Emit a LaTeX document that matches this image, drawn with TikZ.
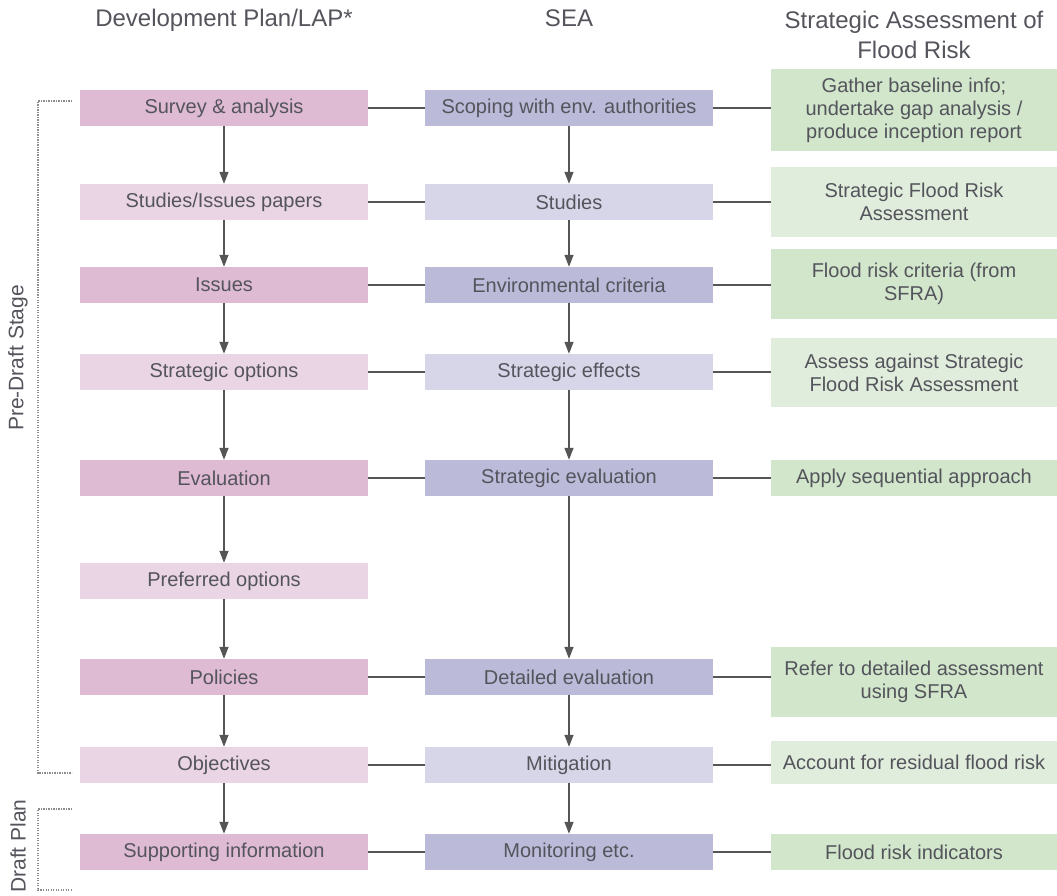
\documentclass[tikz,border=0pt]{standalone}
\usepackage{fontspec}
\setmainfont{Liberation Sans}
\usetikzlibrary{arrows.meta, positioning, calc}

\definecolor{txtgray}{RGB}{84,84,92}
\definecolor{linegray}{RGB}{85,85,85}
\definecolor{plandark}{RGB}{222,186,211}
\definecolor{planlight}{RGB}{234,213,229}
\definecolor{seadark}{RGB}{187,186,217}
\definecolor{sealight}{RGB}{215,214,233}
\definecolor{flooddark}{RGB}{209,230,203}
\definecolor{floodlight}{RGB}{225,237,220}

\begin{document}
\begin{tikzpicture}[
    x=1pt, y=-1pt,
    every node/.style={font=\fontsize{20}{23}\selectfont, text=txtgray},
    heading/.style={
        font=\fontsize{24}{30}\selectfont,
        align=center
    },
    stagelabel/.style={
        font=\fontsize{21}{25}\selectfont,
        rotate=90
    },
    planbox/.style={
        rectangle,
        fill=plandark,
        minimum width=288pt,
        minimum height=36pt,
        inner sep=0pt,
        align=center
    },
    seabox/.style={
        rectangle,
        fill=seadark,
        minimum width=288pt,
        minimum height=36pt,
        inner sep=0pt,
        align=center
    },
    floodbox/.style={
        rectangle,
        fill=flooddark,
        minimum width=286pt,
        minimum height=36pt,
        inner sep=0pt,
        align=center
    },
    light/.style={fill=#1},
    arrow/.style={
        -{Triangle[length=12pt, width=9pt]},
        line width=1.3pt,
        draw=linegray
    },
    link/.style={
        line width=1.3pt,
        draw=linegray
    },
    bracket/.style={
        line width=1.4pt,
        draw=gray!90,
        dash pattern=on 1.2pt off 1.3pt
    }
]
\useasboundingbox (0,0) rectangle (1057,896);

% ============================================
% Column headings
% ============================================
\node[heading, anchor=base] (hplan) at (224,27) {Development Plan/LAP*};
\node[heading, anchor=base] (hsea) at (569,27) {SEA};
\node[heading] (hflood) at (914,35) {Strategic Assessment of\\Flood Risk};

% ============================================
% Development Plan/LAP column
% ============================================
\node[planbox] (p1) at (224,108) {Survey \& analysis};
\node[planbox, light=planlight] (p2) at (224,202) {Studies/Issues papers};
\node[planbox] (p3) at (224,285) {Issues};
\node[planbox, light=planlight] (p4) at (224,372) {Strategic options};
\node[planbox] (p5) at (224,478) {Evaluation};
\node[planbox, light=planlight] (p6) at (224,581) {Preferred options};
\node[planbox] (p7) at (224,677) {Policies};
\node[planbox, light=planlight] (p8) at (224,765) {Objectives};
\node[planbox] (p9) at (224,852) {Supporting information};

% ============================================
% SEA column
% ============================================
\node[seabox] (s1) at (569,108) {Scoping with env. authorities};
\node[seabox, light=sealight] (s2) at (569,202) {Studies};
\node[seabox] (s3) at (569,285) {Environmental criteria};
\node[seabox, light=sealight] (s4) at (569,372) {Strategic effects};
\node[seabox] (s5) at (569,478) {Strategic evaluation};
\node[seabox] (s7) at (569,677) {Detailed evaluation};
\node[seabox, light=sealight] (s8) at (569,765) {Mitigation};
\node[seabox] (s9) at (569,852) {Monitoring etc.};

% ============================================
% Flood risk column
% ============================================
\node[floodbox, minimum height=82pt] (f1) at (914,110) {Gather baseline info;\\undertake gap analysis /\\produce inception report};
\node[floodbox, light=floodlight, minimum height=70pt] (f2) at (914,202) {Strategic Flood Risk\\Assessment};
\node[floodbox, minimum height=70pt] (f3) at (914,284) {Flood risk criteria (from\\SFRA)};
\node[floodbox, light=floodlight, minimum height=69pt] (f4) at (914,372.5) {Assess against Strategic\\Flood Risk Assessment};
\node[floodbox] (f5) at (914,478) {Apply sequential approach};
\node[floodbox, minimum height=70pt] (f7) at (914,682) {Refer to detailed assessment\\using SFRA};
\node[floodbox, light=floodlight, minimum height=43pt] (f8) at (914,762.5) {Account for residual flood risk};
\node[floodbox] (f9) at (914,852) {Flood risk indicators};

% Vertical arrows
\draw[arrow] (p1) -- (p2);
\draw[arrow] (p2) -- (p3);
\draw[arrow] (p3) -- (p4);
\draw[arrow] (p4) -- (p5);
\draw[arrow] (p5) -- (p6);
\draw[arrow] (p6) -- (p7);
\draw[arrow] (p7) -- (p8);
\draw[arrow] (p8) -- (p9);

\draw[arrow] (s1) -- (s2);
\draw[arrow] (s2) -- (s3);
\draw[arrow] (s3) -- (s4);
\draw[arrow] (s4) -- (s5);
\draw[arrow] (s5) -- (s7);
\draw[arrow] (s7) -- (s8);
\draw[arrow] (s8) -- (s9);

% Horizontal links
\draw[link] (p1) -- (s1);
\draw[link] (p2) -- (s2);
\draw[link] (p3) -- (s3);
\draw[link] (p4) -- (s4);
\draw[link] (p5) -- (s5);
\draw[link] (p7) -- (s7);
\draw[link] (p8) -- (s8);
\draw[link] (p9) -- (s9);

\draw[link] (s1.east) -- (s1.east -| f1.west);
\draw[link] (s2.east) -- (s2.east -| f2.west);
\draw[link] (s3.east) -- (s3.east -| f3.west);
\draw[link] (s4.east) -- (s4.east -| f4.west);
\draw[link] (s5.east) -- (s5.east -| f5.west);
\draw[link] (s7.east) -- (s7.east -| f7.west);
\draw[link] (s8.east) -- (s8.east -| f8.west);
\draw[link] (s9.east) -- (s9.east -| f9.west);

% ============================================
% Stage brackets
% ============================================
\coordinate (pretop) at (72,101);
\coordinate (prebot) at (72,773);
\coordinate (drafttop) at (72,809);
\coordinate (draftbot) at (72,890);

\draw[bracket] (pretop) -- ++(-34,0) |- (prebot);
\draw[bracket] (drafttop) -- ++(-34,0) |- (draftbot);

\node[stagelabel] (prelabel) at (18,358) {Pre-Draft Stage};
\node[stagelabel] (draftlabel) at (18,846) {Draft Plan};

\end{tikzpicture}
\end{document}
